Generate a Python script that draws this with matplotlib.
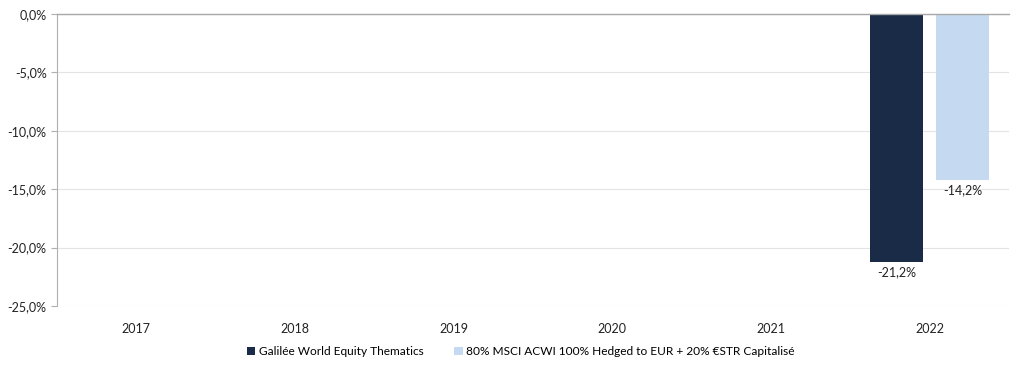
import numpy as np
import matplotlib.pyplot as plt

plt.rcParams['font.family'] = ['Lato', 'DejaVu Sans']

years = ['2017', '2018', '2019', '2020', '2021', '2022']
fonds = [np.nan, np.nan, np.nan, np.nan, np.nan, -21.2]
indice = [np.nan, np.nan, np.nan, np.nan, np.nan, -14.2]
legn = ['Galilée World Equity Thematics',
        '80% MSCI ACWI 100% Hedged to EUR + 20% €STR Capitalisé']
yticks = [0, -5, -10, -15, -20, -25]

col1 = '#1a2b47'
col2 = '#c5daf0'

fig = plt.figure(figsize=(10.24, 3.7), dpi=100)
ax = fig.add_axes([0.0557, 0.173, 0.9297, 0.789])

x = np.arange(len(years))
w = 0.335
off = 0.207
ax.bar(x - off, fonds, w, color=col1, label=legn[0], zorder=3)
ax.bar(x + off, indice, w, color=col2, label=legn[1], zorder=3)

for xx, v in zip(x - off, fonds):
    if not np.isnan(v):
        ax.text(xx, v - 0.4, ('%.1f%%' % v).replace('.', ','), ha='center', va='top',
                fontsize=9, color='#222222')
for xx, v in zip(x + off, indice):
    if not np.isnan(v):
        ax.text(xx, v - 0.4, ('%.1f%%' % v).replace('.', ','), ha='center', va='top',
                fontsize=9, color='#222222')

ax.set_xlim(-0.5, len(years) - 0.5)
ax.set_ylim(-25, 0)
ax.set_yticks(yticks)
ax.set_yticklabels([('%.1f%%' % t).replace('.', ',') for t in yticks])
ax.set_xticks(x)
ax.set_xticklabels(years)
ax.tick_params(axis='x', length=0, labelsize=9, pad=12, colors='#222222')
ax.tick_params(axis='y', length=4, labelsize=9, colors='#222222')
ax.tick_params(axis='y', color='#b0b0b0')
ax.grid(axis='y', color='#e4e4e4', linewidth=0.8, zorder=0)
for s in ['right', 'bottom']:
    ax.spines[s].set_visible(False)
ax.spines['left'].set_color('#b0b0b0')
ax.spines['top'].set_color('#a8a8a8')
ax.spines['top'].set_linewidth(1.0)
ax.spines['top'].set_zorder(4)

ax.legend(loc='upper center', bbox_to_anchor=(0.487, -0.1), ncol=2, frameon=False,
          fontsize=8.6, handlelength=0.7, handleheight=0.7, handletextpad=0.3,
          columnspacing=2.6)

plt.savefig('out.png', dpi=100)
